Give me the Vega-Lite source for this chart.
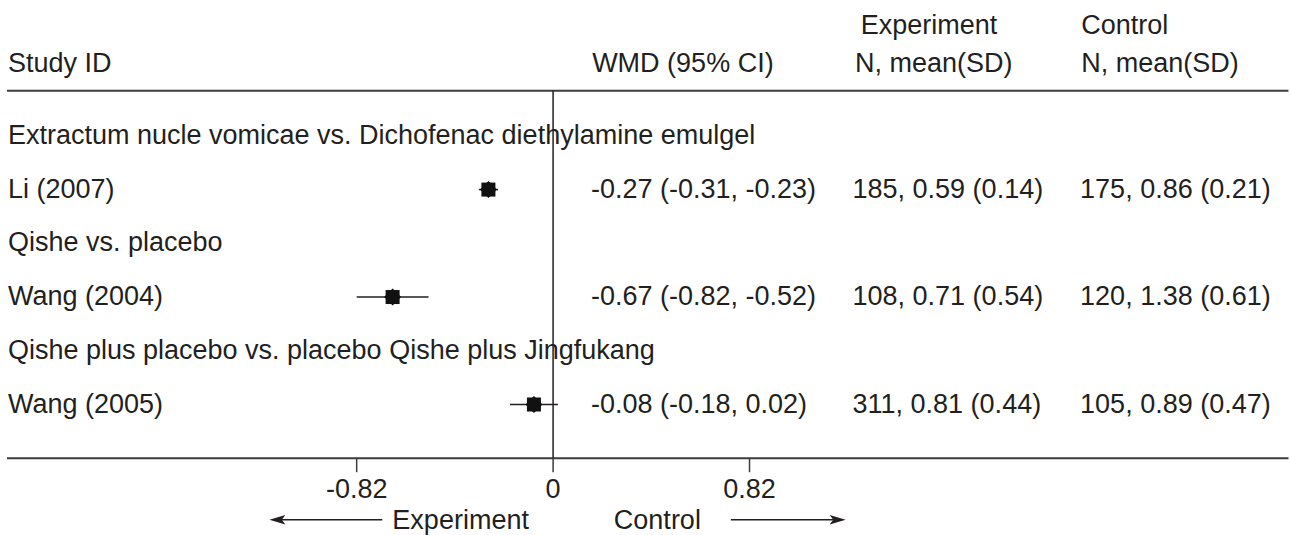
{
  "$schema": "https://vega.github.io/schema/vega-lite/v6.json",
  "width": 1290,
  "height": 535,
  "autosize": {"type": "fit", "contains": "padding"},
  "padding": 0,
  "background": "white",
  "config": {"view": {"stroke": null}, "text": {"font": "Liberation Sans", "fontSize": 27, "color": "#231f20", "baseline": "middle", "align": "left"}},
  "datasets": {
    "studies": [
      {"row": 2, "study": "Li (2007)", "wmd": -0.27, "lo": -0.31, "hi": -0.23, "label": "-0.27 (-0.31, -0.23)", "exp": "185, 0.59 (0.14)", "ctrl": "175, 0.86 (0.21)"},
      {"row": 4, "study": "Wang (2004)", "wmd": -0.67, "lo": -0.82, "hi": -0.52, "label": "-0.67 (-0.82, -0.52)", "exp": "108, 0.71 (0.54)", "ctrl": "120, 1.38 (0.61)"},
      {"row": 6, "study": "Wang (2005)", "wmd": -0.08, "lo": -0.18, "hi": 0.02, "label": "-0.08 (-0.18, 0.02)", "exp": "311, 0.81 (0.44)", "ctrl": "105, 0.89 (0.47)"}
    ],
    "groups": [
      {"row": 1, "group": "Extractum nucle vomicae vs. Dichofenac diethylamine emulgel"},
      {"row": 3, "group": "Qishe vs. placebo"},
      {"row": 5, "group": "Qishe plus placebo vs. placebo Qishe plus Jingfukang"}
    ],
    "ticks": [
      {"v": -0.82, "t": "-0.82"},
      {"v": 0, "t": "0"},
      {"v": 0.82, "t": "0.82"}
    ],
    "header": [
      {"study": "Study ID", "wmd": "WMD (95% CI)", "exp1": "Experiment", "exp2": "N, mean(SD)", "ctrl1": "Control", "ctrl2": "N, mean(SD)", "left": "Experiment", "right": "Control"}
    ]
  },
  "encoding": {},
  "layer": [
    {
      "data": {"name": "header"},
      "mark": {"type": "rule", "stroke": "#3c3c3c", "strokeWidth": 2},
      "encoding": {
        "x": {"datum": -2.28, "type": "quantitative", "scale": {"domain": [-2.309, 3.068], "zero": false, "nice": false}, "axis": null},
        "x2": {"datum": 3.07},
        "y": {"datum": 0.162, "type": "quantitative", "scale": {"domain": [-1.528, 8.41], "zero": false, "nice": false, "reverse": true}, "axis": null}
      }
    },
    {
      "data": {"name": "header"},
      "mark": {"type": "rule", "stroke": "#3c3c3c", "strokeWidth": 2},
      "encoding": {
        "x": {"datum": -2.28, "type": "quantitative"},
        "x2": {"datum": 3.07},
        "y": {"datum": 6.998, "type": "quantitative"}
      }
    },
    {
      "data": {"name": "header"},
      "mark": {"type": "rule", "stroke": "#231f20", "strokeWidth": 1.5},
      "encoding": {
        "x": {"datum": 0, "type": "quantitative"},
        "y": {"datum": 0.162, "type": "quantitative"},
        "y2": {"datum": 6.998}
      }
    },
    {
      "data": {"name": "ticks"},
      "mark": {"type": "rule", "stroke": "#3c3c3c", "strokeWidth": 1.5},
      "encoding": {
        "x": {"field": "v", "type": "quantitative"},
        "y": {"datum": 6.998, "type": "quantitative"},
        "y2": {"datum": 7.26}
      }
    },
    {
      "data": {"name": "ticks"},
      "mark": {"type": "text", "align": "center"},
      "encoding": {
        "x": {"field": "v", "type": "quantitative"},
        "y": {"datum": 7.59, "type": "quantitative"},
        "text": {"field": "t"}
      }
    },
    {
      "data": {"name": "studies"},
      "mark": {"type": "rule", "stroke": "#231f20", "strokeWidth": 1.5},
      "encoding": {
        "x": {"field": "lo", "type": "quantitative"},
        "x2": {"field": "hi"},
        "y": {"field": "row", "type": "quantitative"}
      }
    },
    {
      "data": {"name": "studies"},
      "mark": {"type": "point", "shape": "square", "filled": true, "size": 196, "color": "#111111", "opacity": 1},
      "encoding": {
        "x": {"field": "wmd", "type": "quantitative"},
        "y": {"field": "row", "type": "quantitative"}
      }
    },
    {
      "data": {"name": "studies"},
      "mark": {"type": "point", "shape": "diamond", "filled": true, "size": 290, "color": "#111111", "opacity": 1},
      "encoding": {
        "x": {"field": "wmd", "type": "quantitative"},
        "y": {"field": "row", "type": "quantitative"}
      }
    },
    {
      "data": {"name": "studies"},
      "mark": {"type": "text"},
      "encoding": {
        "x": {"datum": -2.276, "type": "quantitative"},
        "y": {"field": "row", "type": "quantitative"},
        "text": {"field": "study"}
      }
    },
    {
      "data": {"name": "studies"},
      "mark": {"type": "text"},
      "encoding": {
        "x": {"datum": 0.158, "type": "quantitative"},
        "y": {"field": "row", "type": "quantitative"},
        "text": {"field": "label"}
      }
    },
    {
      "data": {"name": "studies"},
      "mark": {"type": "text"},
      "encoding": {
        "x": {"datum": 1.25, "type": "quantitative"},
        "y": {"field": "row", "type": "quantitative"},
        "text": {"field": "exp"}
      }
    },
    {
      "data": {"name": "studies"},
      "mark": {"type": "text"},
      "encoding": {
        "x": {"datum": 2.2, "type": "quantitative"},
        "y": {"field": "row", "type": "quantitative"},
        "text": {"field": "ctrl"}
      }
    },
    {
      "data": {"name": "groups"},
      "mark": {"type": "text"},
      "encoding": {
        "x": {"datum": -2.276, "type": "quantitative"},
        "y": {"field": "row", "type": "quantitative"},
        "text": {"field": "group"}
      }
    },
    {
      "data": {"name": "header"},
      "mark": {"type": "text"},
      "encoding": {
        "x": {"datum": -2.276, "type": "quantitative"},
        "y": {"datum": -0.339, "type": "quantitative"},
        "text": {"field": "study"}
      }
    },
    {
      "data": {"name": "header"},
      "mark": {"type": "text"},
      "encoding": {
        "x": {"datum": 0.163, "type": "quantitative"},
        "y": {"datum": -0.339, "type": "quantitative"},
        "text": {"field": "wmd"}
      }
    },
    {
      "data": {"name": "header"},
      "mark": {"type": "text"},
      "encoding": {
        "x": {"datum": 1.26, "type": "quantitative"},
        "y": {"datum": -0.339, "type": "quantitative"},
        "text": {"field": "exp2"}
      }
    },
    {
      "data": {"name": "header"},
      "mark": {"type": "text"},
      "encoding": {
        "x": {"datum": 1.284, "type": "quantitative"},
        "y": {"datum": -1.036, "type": "quantitative"},
        "text": {"field": "exp1"}
      }
    },
    {
      "data": {"name": "header"},
      "mark": {"type": "text"},
      "encoding": {
        "x": {"datum": 2.205, "type": "quantitative"},
        "y": {"datum": -0.339, "type": "quantitative"},
        "text": {"field": "ctrl2"}
      }
    },
    {
      "data": {"name": "header"},
      "mark": {"type": "text"},
      "encoding": {
        "x": {"datum": 2.205, "type": "quantitative"},
        "y": {"datum": -1.036, "type": "quantitative"},
        "text": {"field": "ctrl1"}
      }
    },
    {
      "data": {"name": "header"},
      "mark": {"type": "text"},
      "encoding": {
        "x": {"datum": -0.671, "type": "quantitative"},
        "y": {"datum": 8.17, "type": "quantitative"},
        "text": {"field": "left"}
      }
    },
    {
      "data": {"name": "header"},
      "mark": {"type": "text", "align": "right"},
      "encoding": {
        "x": {"datum": 0.617, "type": "quantitative"},
        "y": {"datum": 8.17, "type": "quantitative"},
        "text": {"field": "right"}
      }
    },
    {
      "data": {"name": "header"},
      "mark": {"type": "rule", "stroke": "#231f20", "strokeWidth": 1.5},
      "encoding": {
        "x": {"datum": -1.151, "type": "quantitative"},
        "x2": {"datum": -0.713},
        "y": {"datum": 8.145, "type": "quantitative"}
      }
    },
    {
      "data": {"name": "header"},
      "mark": {"type": "rule", "stroke": "#231f20", "strokeWidth": 1.5},
      "encoding": {
        "x": {"datum": 0.742, "type": "quantitative"},
        "x2": {"datum": 1.188},
        "y": {"datum": 8.145, "type": "quantitative"}
      }
    },
    {
      "data": {"name": "header"},
      "mark": {"type": "point", "shape": "M -1 0 L 1 -0.6 L 0.55 0 L 1 0.6 Z", "filled": true, "size": 256, "color": "#231f20", "opacity": 1},
      "encoding": {
        "x": {"datum": -1.151, "type": "quantitative"},
        "y": {"datum": 8.145, "type": "quantitative"}
      }
    },
    {
      "data": {"name": "header"},
      "mark": {"type": "point", "shape": "M 1 0 L -1 -0.6 L -0.55 0 L -1 0.6 Z", "filled": true, "size": 256, "color": "#231f20", "opacity": 1},
      "encoding": {
        "x": {"datum": 1.188, "type": "quantitative"},
        "y": {"datum": 8.145, "type": "quantitative"}
      }
    }
  ]
}
